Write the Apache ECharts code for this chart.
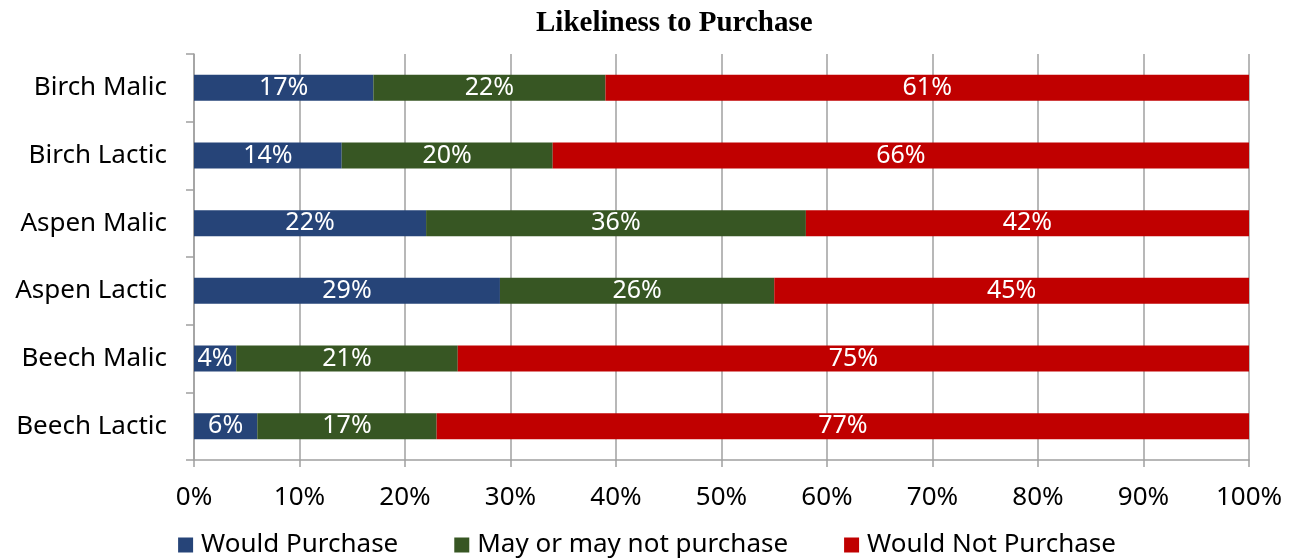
<!DOCTYPE html>
<html><head><meta charset="utf-8">
<script src="https://cdn.jsdelivr.net/npm/echarts@6/dist/echarts.min.js"></script>
<style>html,body{margin:0;padding:0;background:#fff}#c{width:1294px;height:558px}</style>
</head><body><div id="c"></div>
<script>
const categories = ["Birch Malic","Birch Lactic","Aspen Malic","Aspen Lactic","Beech Malic","Beech Lactic"];
const wouldPurchase = [17,14,22,29,4,6];
const mayPurchase = [22,20,36,26,21,17];
const wouldNot = [61,66,42,45,75,77];
const seriesNames = ["Would Purchase","May or may not purchase","Would Not Purchase"];
const colors = ["#264478","#375623","#C00000"];
const font = "Noto Sans";
const chart = echarts.init(document.getElementById('c'));
const mk = (name, data, color) => ({
  name, type:'bar', stack:'t', data, barWidth:26,
  itemStyle:{color},
  label:{show:true, position:'inside', formatter:'{c}%', color:'#fff', fontSize:25, fontFamily:font}
});
chart.setOption({
  animation:false,
  title:{text:'Likeliness to Purchase', left:531, top:4,
    textStyle:{fontFamily:'Liberation Serif', fontWeight:'bold', fontSize:29, color:'#000'}},
  legend:{top:527, left:'center', itemWidth:15, itemHeight:15, itemGap:56, icon:'rect',
    textStyle:{fontFamily:font, fontSize:26, color:'#000', padding:[0,0,0,3]}},
  grid:{left:194, right:45, top:54, bottom:98},
  xAxis:{type:'value', min:0, max:100, interval:10,
    axisLabel:{formatter:'{value}%', fontFamily:font, fontSize:26, color:'#000', margin:25},
    axisLine:{show:true, lineStyle:{color:'#A0A0A0', width:1.5}},
    axisTick:{show:true, length:7, lineStyle:{color:'#A0A0A0', width:1.5}},
    splitLine:{show:true, lineStyle:{color:'#A0A0A0', width:1.5}}},
  yAxis:{type:'category', data:categories, inverse:true,
    axisLabel:{fontFamily:font, fontSize:26, color:'#000', margin:27},
    axisLine:{show:true, lineStyle:{color:'#A0A0A0', width:1.5}},
    axisTick:{show:true, length:8, lineStyle:{color:'#A0A0A0', width:1.5}}},
  series:[mk(seriesNames[0],wouldPurchase,colors[0]),mk(seriesNames[1],mayPurchase,colors[1]),mk(seriesNames[2],wouldNot,colors[2])]
});
</script></body></html>
